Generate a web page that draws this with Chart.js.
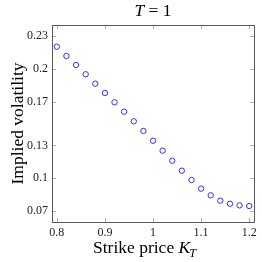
<!DOCTYPE html>
<html><head><meta charset="utf-8">
<script src="https://cdn.jsdelivr.net/npm/chart.js@4"></script>
<style>html,body{margin:0;padding:0;background:#fff}#wrap{width:262px;height:262px}</style>
</head><body><div id="wrap"><canvas id="c" width="262" height="262"></canvas></div>
<script>
const strikes = [0.80,0.82,0.84,0.86,0.88,0.90,0.92,0.94,0.96,0.98,1.00,1.02,1.04,1.06,1.08,1.10,1.12,1.14,1.16,1.18,1.20];
const impliedVol = [0.2202,0.2117,0.2035,0.1950,0.1864,0.1779,0.1694,0.1608,0.1520,0.1432,0.1343,0.1252,0.1160,0.1069,0.0984,0.0905,0.0844,0.0795,0.0767,0.0752,0.0746];
const xTickValues = [0.8,0.9,1,1.1,1.2];
const yTickValues = [0.07,0.1,0.13,0.17,0.2,0.23];
const titleParts = [["T", true], [" = ", false], ["1", false]];
const xTitleParts = [["Strike price ", false], ["K", true]];
const xTitleSub = "T";
const yTitleText = "Implied volatility";

const SERIF = "'Liberation Serif', 'DejaVu Serif', serif";

function drawParts(ctx, parts, cx, baseline, size, sub) {
  let widths = parts.map(p => { ctx.font = (p[1] ? 'italic ' : '') + size + 'px ' + SERIF; return ctx.measureText(p[0]).width; });
  let subW = 0;
  if (sub) { ctx.font = 'italic ' + (size * 0.7) + 'px ' + SERIF; subW = ctx.measureText(sub).width; }
  let total = widths.reduce((a, b) => a + b, 0) + subW;
  let x = cx - total / 2;
  ctx.fillStyle = '#000';
  ctx.textBaseline = 'alphabetic';
  ctx.textAlign = 'left';
  parts.forEach((p, i) => {
    ctx.font = (p[1] ? 'italic ' : '') + size + 'px ' + SERIF;
    ctx.fillText(p[0], x, baseline);
    x += widths[i];
  });
  if (sub) {
    ctx.font = 'italic ' + (size * 0.7) + 'px ' + SERIF;
    ctx.fillText(sub, x - 1, baseline + 4);
  }
}

const framePlugin = {
  id: 'frame',
  afterDraw(chart) {
    const ctx = chart.ctx;
    const a = chart.chartArea;
    const xs = chart.scales.x, ys = chart.scales.y;
    ctx.save();
    ctx.strokeStyle = '#b0b0b0';
    ctx.lineWidth = 1;
    const tl = 4;
    xTickValues.forEach(v => {
      const px = Math.round(xs.getPixelForValue(v)) + 0.5;
      ctx.beginPath();
      ctx.moveTo(px, a.bottom); ctx.lineTo(px, a.bottom - tl);
      ctx.moveTo(px, a.top); ctx.lineTo(px, a.top + tl);
      ctx.stroke();
    });
    yTickValues.forEach(v => {
      const py = Math.round(ys.getPixelForValue(v)) + 0.5;
      ctx.beginPath();
      ctx.moveTo(a.left, py); ctx.lineTo(a.left + tl, py);
      ctx.moveTo(a.right, py); ctx.lineTo(a.right - tl, py);
      ctx.stroke();
    });
    ctx.strokeStyle = '#5a5a5a';
    ctx.strokeRect(Math.round(a.left) + 0.5, Math.round(a.top) + 0.5, Math.round(a.right - a.left), Math.round(a.bottom - a.top));
    drawParts(ctx, titleParts, (a.left + a.right) / 2, 16, 17.5);
    drawParts(ctx, xTitleParts, (a.left + a.right) / 2 - 8, 253, 17.5, xTitleSub);
    ctx.restore();
  }
};

new Chart(document.getElementById('c'), {
  type: 'scatter',
  data: {
    datasets: [{
      data: strikes.map((k, i) => ({x: k, y: impliedVol[i]})),
      pointStyle: 'circle',
      pointRadius: 2.7,
      pointBorderWidth: 1,
      borderColor: '#3030ff',
      backgroundColor: 'rgba(255,255,255,0)',
      showLine: false
    }]
  },
  options: {
    responsive: false,
    devicePixelRatio: 1,
    animation: false,
    layout: { padding: { top: 25, right: 8, left: 0, bottom: 0 } },
    plugins: { legend: { display: false }, tooltip: { enabled: false }, title: { display: false } },
    scales: {
      x: {
        type: 'linear', min: 0.79, max: 1.21,
        afterBuildTicks(s) { s.ticks = xTickValues.map(v => ({value: v})); },
        afterFit(s) { s.height = 40; },
        grid: { display: false, drawTicks: false },
        border: { display: false },
        ticks: { font: { family: SERIF, size: 12 }, color: '#222', padding: 4, maxRotation: 0, callback: v => String(v) }
      },
      y: {
        type: 'linear', min: 0.06, max: 0.24,
        afterBuildTicks(s) { s.ticks = yTickValues.map(v => ({value: v})); },
        afterFit(s) { s.width = 52; },
        grid: { display: false, drawTicks: false },
        border: { display: false },
        ticks: { font: { family: SERIF, size: 12 }, color: '#222', padding: 4, callback: v => String(v) },
        title: { display: true, text: yTitleText, font: { family: SERIF, size: 17.5 }, color: '#000', padding: { top: 8 } }
      }
    }
  },
  plugins: [framePlugin]
});
</script>
</body></html>
